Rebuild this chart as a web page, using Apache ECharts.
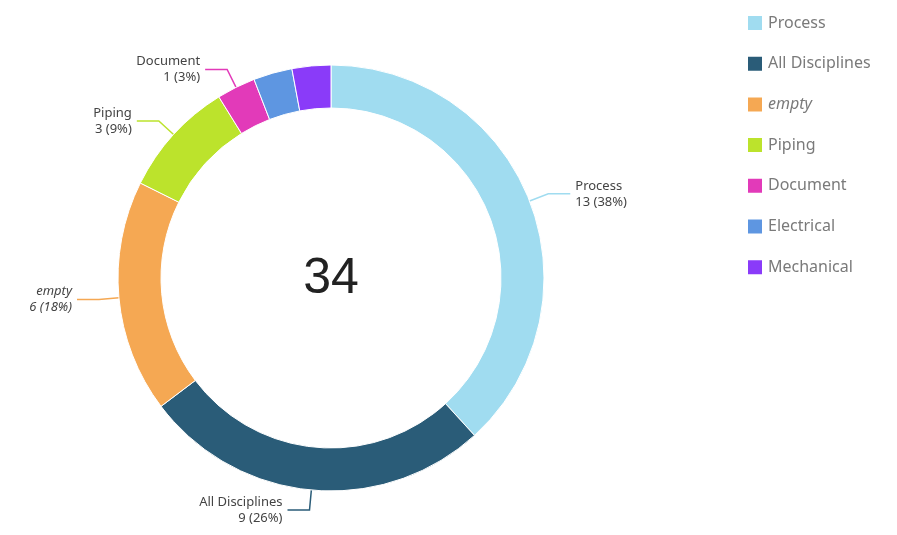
<!DOCTYPE html>
<html>
<head>
<meta charset="utf-8">
<script src="https://cdn.jsdelivr.net/npm/echarts@6/dist/echarts.min.js"></script>
<style>
  html, body { margin: 0; padding: 0; background: #fff; }
  #chart { width: 897px; height: 535px; }
</style>
</head>
<body>
<div id="chart"></div>
<script>
// slice names, counts and colours (clockwise from the top)
const categories = ['Process', 'All Disciplines', 'empty', 'Piping', 'Document', 'Electrical', 'Mechanical']
const counts = [13, 9, 6, 3, 1, 1, 1]
const colors = ['#a0dcf0', '#2a5c78', '#f5a853', '#bce32c', '#e23ab9', '#5e96e1', '#8a3bf9']
const hiddenLabels = ['Electrical', 'Mechanical']

const total = counts.reduce((a, b) => a + b, 0)

let chart = echarts.init(document.getElementById('chart'))

let pieData = categories.map((name, i) => {
  let item = { name: name, value: counts[i] }
  if (name === 'empty') item.label = { fontStyle: 'italic' }
  if (hiddenLabels.includes(name)) item.label = { show: false }
  if (hiddenLabels.includes(name)) item.labelLine = { show: false }
  return item
})

let chartOpt = {
  color: colors,
  animation: false,
  legend: {
    orient: 'vertical',
    left: 741,
    top: 9,
    itemWidth: 16,
    itemHeight: 16,
    itemGap: 22.7,
    icon: 'rect',
    textStyle: { color: '#7a7a7a', fontSize: 16, fontFamily: 'Noto Sans' },
    data: categories.map(name => name === 'empty'
      ? { name: name, textStyle: { fontStyle: 'italic' } }
      : { name: name })
  },
  graphic: [{
    type: 'text',
    x: 331,
    y: 279,
    style: {
      text: String(total),
      align: 'center',
      verticalAlign: 'middle',
      fontSize: 50,
      fontFamily: 'Liberation Sans',
      fill: '#222'
    }
  }],
  series: [{
    type: 'pie',
    center: [331, 278],
    radius: [170, 213],
    startAngle: 90,
    clockwise: true,
    percentPrecision: 0,
    itemStyle: { borderColor: '#fff', borderWidth: 1 },
    label: {
      show: true,
      formatter: '{b}\n{c} ({d}%)',
      color: '#444',
      fontSize: 13,
      lineHeight: 16,
      fontFamily: 'Noto Sans'
    },
    labelLine: { show: true, length: 20, length2: 22, lineStyle: { width: 1.5 } },
    data: pieData
  }]
}

chart.setOption(chartOpt)
</script>
</body>
</html>
